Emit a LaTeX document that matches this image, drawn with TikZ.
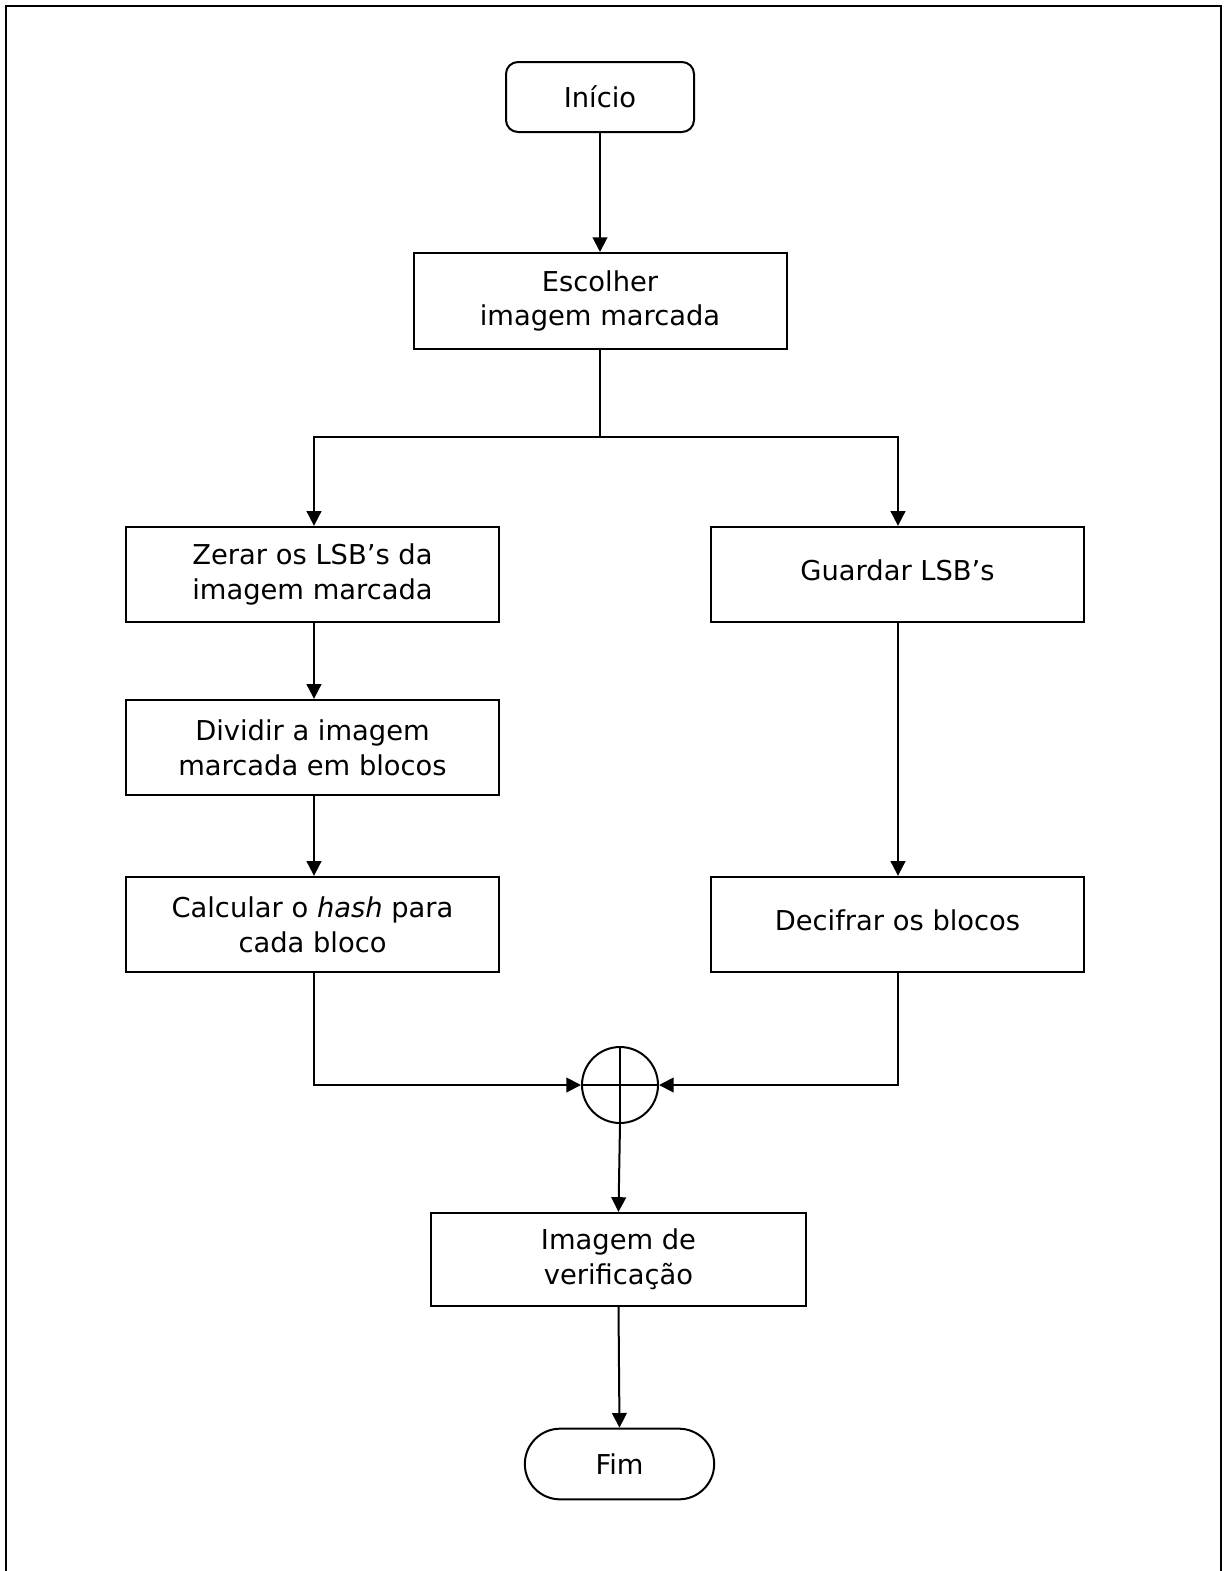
\documentclass[tikz,border=0pt]{standalone}
\usepackage{fontspec}
\setmainfont{DejaVu Sans}
\usetikzlibrary{arrows.meta,shapes.misc}
\begin{document}
\begin{tikzpicture}[x=0.75pt,y=-0.75pt,
  line width=1.5pt,
  txt/.style={font=\fontsize{20.5}{26}\selectfont, align=center},
  procbox/.style={draw, txt, rectangle, inner sep=0pt, minimum width=279.75pt, minimum height=71.5pt},
  startbox/.style={draw, txt, rectangle, rounded corners=9pt, inner sep=0pt, minimum width=141pt, minimum height=52.5pt},
  endbox/.style={draw, txt, rounded rectangle, inner sep=0pt, minimum width=142pt, minimum height=53pt},
  sumnode/.style={draw, circle, inner sep=0pt, minimum size=57pt},
  flow/.style={-{Triangle[length=11pt,width=11pt]}},
]
\useasboundingbox (0,0) rectangle (1224,1571);
% outer frame
\draw (6,1580) -- (6,6) -- (1221,6) -- (1221,1580);

% nodes
\node[startbox] (ini) at (600,97) {Início};
\node[procbox, minimum height=72pt] (esc) at (600,301) {Escolher\\ imagem marcada};
\coordinate (split) at (600,437);
\coordinate (splitL) at (314,437);
\coordinate (splitR) at (898,437);
\node[procbox] (zer) at (312.5,574.5) {Zerar os LSB’s da\\imagem marcada};
\node[procbox] (gua) at (897.5,574.5) {\raisebox{6pt}{Guardar LSB’s}};
\node[procbox] (div) at (312.5,747.5) {Dividir a imagem\\marcada em blocos};
\node[procbox] (cal) at (312.5,924.5) {Calcular o \textit{hash} para\\cada bloco};
\node[procbox] (dec) at (897.5,924.5) {\raisebox{6pt}{Decifrar os blocos}};
\node[sumnode] (xor) at (620,1085) {};
\draw (xor.north) -- (xor.south) (xor.west) -- (xor.east);
\node[procbox, minimum width=281.25pt, minimum height=70pt] (ver) at (618.5,1259.5) {Imagem de\\verificação};
\node[endbox] (fim) at (619.5,1464) {Fim};

% connectors
\draw[flow] (ini.south) -- (esc.north);
\draw (esc.south) -- (split);
\draw[flow] (split) -| (zer.north -| splitL);
\draw[flow] (split) -| (gua.north -| splitR);
\draw[flow] (zer.south -| splitL) -- (div.north -| splitL);
\draw[flow] (div.south -| splitL) -- (cal.north -| splitL);
\draw[flow] (gua.south -| splitR) -- (dec.north -| splitR);
\draw[flow] (cal.south -| splitL) |- (xor.west);
\draw[flow] (dec.south -| splitR) |- (xor.east);
\draw[flow] (xor.south) -- (ver.north);
\draw[flow] (ver.south) -- (fim.north);
\end{tikzpicture}
\end{document}
